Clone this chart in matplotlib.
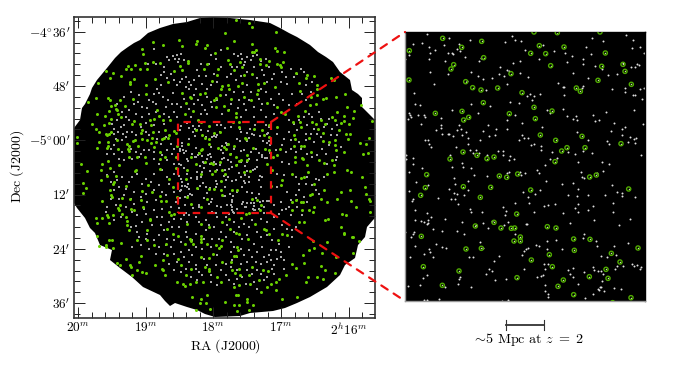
import numpy as np
import matplotlib
matplotlib.use("Agg")
import matplotlib.pyplot as plt
from matplotlib.patches import Polygon, Rectangle, ConnectionPatch
from matplotlib.ticker import FixedLocator

plt.rcParams['mathtext.fontset'] = 'cm'
plt.rcParams['font.family'] = ['cmr10', 'DejaVu Sans']
plt.rcParams['axes.formatter.use_mathtext'] = True

# ---- survey footprint outline, read as picture positions (px)
outline = [(74,128),(77,124),(80,120),(81,114),(82,108),(85,104),(87,100),(90,94),(92,88),(97,80),(102,74),(107,68),(115,58),(121,52),(128,47),(134,43),(140,40),(148,33),
 (160,28),(173,24),(187,22),(200,18),(213,17),(230,18),(250,20),(270,23),(280,28),(289,33),(297,37),(310,45),(318,52),(326,57),
 (333,62),(340,72),(350,80),(352,90),(358,94),(362,98),(362,107),(368,113),(373,118),(375,120),(375,218),(373,220),(367,227),
 (365,237),(358,245),(355,258),(345,265),(340,275),(327,287),(310,297),(297,303),(285,308),(273,311),(250,313),(240,316),
 (215,317),(205,314),(197,310),(187,307),(175,303),(170,306),(165,301),(160,295),(143,287),(132,277),(120,268),(110,260),(112,250),
 (100,245),(95,233),(90,228),(85,218),(77,208),(74,203)]

# ---- left panel green sources, by quadrant tile (1/3 px units inside each tile)
green_nw = [(236,75),(314,69),(369,72),(365,80),(266,85),(325,88),(399,84),(392,92),(204,96),(208,112),(423,107),(212,138),(237,134),(258,138),(341,132),(342,137),(318,148),(323,160),(398,141),(390,155),(161,147),(157,155),(184,144),(172,157),(198,157),(218,157),(95,161),(118,167),(140,177),(109,183),(72,198),(168,195),(168,202),(180,187),(243,187),(283,195),(299,162),(415,193),(433,155),(430,175),(217,204),(443,207),(440,217),(324,227),(378,231),(393,227),(216,231),(437,233),(426,242),(421,250),(66,244),(103,243),(107,250),(137,249),(178,247),(349,240),(352,242),(41,254),(112,268),(123,265),(153,266),(125,275),(129,280),(425,270),(449,268),(358,282),(336,258),(332,291),(250,280),(254,298),(240,307),(68,292),(92,296),(105,283),(110,305),(140,301),(131,290),(179,313),(228,310),(230,323),(289,310),(266,308),(105,318),(55,320),(90,323),(66,337),(75,345),(97,350),(100,355),(106,352),(111,345),(175,322),(197,320),(204,338),(200,347),(273,340),(269,364),(236,345),(301,343),(286,353),(283,362),(305,348),(406,327),(372,310),(380,315),(367,340),(385,353),(393,362),(405,365),(421,347),(437,345),(8,360),(9,378),(76,375),(128,368),(159,380),(165,386),(163,395),(131,396),(101,376),(102,387),(99,392),(69,392),(183,370),(178,372),(205,365),(220,368),(234,362),(264,365),(192,388),(232,378),(240,390),(245,375),(310,388),(342,380),(385,395),(380,398),(376,408),(405,380),(433,392),(450,390),(257,404),(258,426),(272,420),(307,420),(165,402),(165,420),(190,420),(22,440),(83,440),(101,433),(135,444),(214,420),(216,438),(365,440),(392,436),(410,437),(416,440),(439,436),(350,420)]
green_ne = [(37,10),(76,17),(85,30),(4,49),(156,44),(30,71),(83,80),(9,93),(153,93),(160,103),(180,104),(84,105),(95,100),(91,104),(13,130),(107,127),(136,132),(109,140),(127,143),(159,142),(167,145),(177,136),(170,150),(18,140),(48,135),(30,160),(53,150),(60,175),(84,172),(216,168),(248,175),(247,183),(271,177),(322,183),(329,188),(12,203),(42,207),(54,197),(103,201),(103,218),(120,197),(154,210),(226,198),(280,205),(228,222),(278,215),(15,215),(22,245),(60,240),(100,230),(130,257),(160,270),(82,250),(262,240),(280,235),(305,242),(335,241),(363,231),(258,263),(275,260),(296,247),(410,264),(368,270),(338,284),(390,282),(360,298),(386,302),(12,280),(35,288),(35,300),(26,315),(46,314),(44,330),(89,337),(115,340),(136,325),(160,330),(171,284),(184,290),(243,283),(222,297),(207,315),(229,316),(264,315),(275,320),(292,310),(302,322),(323,300),(332,310),(350,318),(360,313),(375,320),(444,312),(230,330),(283,335),(298,348),(345,340),(120,355),(135,360),(210,355),(214,367),(256,363),(297,372),(314,375),(332,370),(332,383),(366,352),(377,350),(372,365),(436,362),(407,377),(427,381),(360,405),(418,410),(432,408),(336,400),(12,380),(30,388),(62,362),(67,365),(7,395),(18,412),(36,420),(51,430),(45,433),(68,415),(70,430),(88,392),(122,395),(134,400),(148,420),(160,413),(168,395),(211,388),(232,388),(241,388),(214,420),(233,422),(238,425),(212,435),(250,445),(286,430),(299,437),(324,430),(330,445),(262,405),(35,445),(130,440)]
green_sw = [(38,11),(82,8),(109,2),(183,13),(258,5),(305,2),(27,47),(35,64),(28,78),(82,40),(99,28),(127,28),(118,52),(120,45),(108,68),(112,85),(115,90),(143,92),(84,103),(156,57),(222,54),(205,72),(234,74),(258,88),(261,102),(187,10),(168,95),(137,115),(132,122),(135,130),(100,145),(116,145),(103,150),(65,153),(68,167),(83,153),(105,167),(145,140),(155,150),(160,163),(172,125),(180,130),(228,155),(229,160),(207,120),(200,100),(285,135),(290,145),(300,140),(276,102),(310,90),(285,37),(297,60),(335,35),(340,10),(380,20),(370,62),(405,65),(413,22),(423,12),(445,10),(441,42),(440,70),(443,85),(420,65),(340,90),(352,110),(380,120),(400,95),(160,175),(165,190),(218,190),(278,185),(298,202),(340,170),(380,172),(405,180),(445,165),(70,207),(105,218),(113,220),(188,220),(220,220),(140,228),(76,237),(95,233),(97,240),(117,243),(240,235),(277,230),(312,208),(332,232),(348,215),(350,222),(358,232),(380,207),(380,217),(380,225),(444,220),(440,238),(436,243),(405,272),(418,262),(427,235),(400,232),(155,275),(200,268),(195,285),(128,288),(137,293),(168,295),(170,300),(190,310),(204,315),(215,317),(175,325),(243,293),(265,305),(268,310),(272,323),(267,280),(280,265),(313,275),(320,295),(337,325),(310,345),(328,350),(332,356),(347,352),(353,390),(400,383),(380,395),(377,408),(395,407),(367,430),(407,427),(365,345),(388,345),(405,305),(405,312),(392,300),(430,330),(445,285),(380,270),(352,305),(440,345)]
green_se = [(2,20),(78,12),(60,15),(205,20),(175,40),(172,55),(230,32),(240,30),(142,57),(143,10),(253,15),(270,50),(300,70),(310,20),(330,15),(370,10),(380,15),(415,30),(423,60),(425,80),(435,95),(437,102),(350,75),(377,70),(290,95),(310,105),(340,97),(380,102),(395,120),(437,135),(25,68),(38,70),(85,97),(100,100),(110,115),(108,130),(74,137),(65,140),(50,152),(15,155),(18,185),(35,198),(45,200),(92,170),(120,185),(125,190),(135,200),(163,218),(175,202),(190,205),(205,105),(215,100),(232,105),(236,105),(205,130),(233,130),(255,130),(268,135),(270,120),(258,85),(263,82),(225,165),(240,165),(303,158),(313,155),(355,142),(367,145),(352,180),(360,197),(360,202),(383,210),(388,210),(405,222),(308,225),(388,258),(268,222),(255,250),(270,242),(295,258),(335,270),(72,215),(40,240),(43,248),(35,268),(20,285),(30,268),(45,305),(25,310),(33,318),(48,325),(75,325),(78,350),(85,300),(105,340),(118,308),(132,312),(142,350),(155,345),(165,335),(185,325),(205,290),(240,287),(238,265),(215,302),(253,330),(280,330),(298,335),(290,298),(332,318),(247,345),(303,310),(155,370),(175,395),(220,390),(128,360),(45,355),(30,360),(35,385),(42,385),(68,395),(68,405),(75,430),(88,415),(45,415),(30,415),(40,433),(3,405),(110,375)]

# ---- left panel pale sources outside the inset box
pale_nw = [(310,115),(320,112),(303,125),(280,120),(285,130),(240,97),(222,140),(247,140),(270,150),(270,165),(290,170),(325,185),(335,180),(345,195),(360,190),(300,190),(310,205),(260,205),(250,215),(240,230),(267,240),(238,255),(245,262),(225,250),(205,270),(195,235),(170,225),(150,240),(130,260),(165,280),(185,290),(145,285),(130,310),(113,320),(120,335),(150,325),(160,345),(157,360),(125,365),(120,385),(100,410),(120,410),(145,405),(150,430),(175,425),(195,420),(210,400),(225,400),(240,425),(280,400),(295,410),(280,430),(300,440),(290,380),(260,380),(215,345),(240,325),(255,345),(270,320),(285,300),(300,285),(310,260),(330,245),(360,260),(385,265),(400,240),(365,215),(345,215),(400,215),(420,170),(405,140),(410,115),(425,125),(440,100),(380,140),(370,160),(440,150),(445,290),(400,290),(380,290),(350,300),(310,300),(270,290),(225,290),(205,300),(175,345),(145,370),(170,395),(185,355),(250,365),(225,355),(430,250),(415,270),(330,130),(315,125),
 (296,118),(312,135),(262,175),(280,182),(318,195),(352,205),(375,178),(395,178),(430,195),(410,205),(385,200),(298,228),(282,250),(255,228),(218,272),(192,255),(180,262),(155,300),(140,330),(133,345),(148,350),(165,310),(200,330),(215,318),(245,285),(275,270),(295,262),(322,270),(345,275),(372,248),(410,255),(392,278),(360,235),(335,210),(200,410),(135,425),(110,395),(120,352),(185,405),(240,405),(265,415),(255,440),(300,395),(275,360)]
pale_ne = [(30,110),(50,110),(55,125),(70,120),(80,130),(100,115),(125,125),(135,150),(115,160),(90,150),(60,145),(40,150),(20,170),(10,180),(35,190),(70,205),(80,225),(110,215),(130,195),(150,170),(175,165),(200,155),(230,155),(240,165),(210,180),(190,200),(165,230),(140,245),(115,260),(90,270),(75,250),(65,280),(50,300),(20,260),(5,235),(90,300),(110,280),(150,290),(125,300),(205,230),(235,230),(260,225),(245,205),(265,195),(195,310),(210,320),(240,300),(265,300),(290,305),(310,320),(325,335),(300,330),(270,335),(245,350),(220,340),(195,345),(180,365),(200,395),(175,385),(245,370),(270,375),(290,360),(340,355),(315,385),(295,395),(265,420),(250,410),(195,440),(175,435),(185,405),(335,430),(310,440),(350,390),(340,420),(160,350),(155,400),(230,395),(280,350),
 (42,118),(62,135),(88,118),(112,133),(25,150),(70,165),(50,178),(100,182),(120,175),(145,185),(170,195),(185,180),(220,170),(58,225),(30,225),(45,250),(15,280),(42,272),(60,260),(105,245),(125,225),(178,250),(150,265),(195,265),(220,260),(245,250),(285,285),(255,290),(225,310),(250,325),(280,350),(315,305),(340,325),(320,355),(200,370),(225,375),(260,350),(305,410),(280,415),(215,405)]
pale_sw = [(100,25),(120,15),(145,30),(165,45),(190,20),(215,35),(240,20),(265,10),(280,30),(300,20),(135,60),(155,65),(180,75),(120,70),(100,120),(125,115),(95,135),(120,160),(140,150),(155,120),(180,110),(200,90),(220,105),(245,100),(275,85),(300,75),(305,105),(290,120),(265,125),(240,130),(215,140),(190,145),(170,180),(185,178),(205,165),(235,175),(260,175),(270,190),(285,165),(320,155),(340,165),(365,150),(395,160),(430,150),(420,180),(395,190),(365,200),(335,195),(315,180),(295,180),(300,220),(320,225),(280,215),(255,205),(240,220),(215,215),(195,210),(175,240),(200,235),(225,245),(255,240),(290,240),(270,260),(300,260),(320,255),(345,250),(365,240),(385,245),(410,240),(430,265),(390,275),(365,295),(345,285),(310,285),(285,290),(320,315),(365,305),(385,325),(410,325),(430,355),(440,310),(350,330),(370,340),(345,145),(415,135),(440,120),
 (110,45),(130,40),(175,30),(205,50),(230,45),(255,55),(285,50),(150,85),(170,95),(215,80),(240,70),(265,75),(110,95),(135,95),(175,135),(210,125),(250,150),(265,150),(300,155),(330,145),(375,165),(405,175),(440,195),(355,220),(340,210),(390,215),(415,215),(435,215),(275,235),(245,260),(220,200),(190,195),(330,270),(355,265),(400,295),(425,295),(375,315),(335,305),(300,310),(410,345)]
pale_se = [(160,20),(180,25),(215,30),(250,30),(275,35),(160,60),(190,75),(170,105),(185,125),(165,140),(200,145),(130,165),(150,150),(110,155),(85,160),(60,170),(30,165),(10,175),(5,210),(20,225),(55,215),(70,205),(90,230),(110,210),(115,240),(145,220),(165,230),(195,240),(205,210),(135,265),(160,275),(180,280),(150,295),(130,285),(110,290),(85,270),(60,265),(20,255),(5,290),(50,290),(70,310),(100,310),(130,330),(110,320),(145,305),(180,305),(15,340),(40,335),(65,350),(100,365),(90,345),(5,325),(220,100),(220,120),(250,105),(285,40),(300,30),(275,70),(245,50),(225,70),(200,100),(235,145),(150,115),(175,175),(130,205),(90,130),(40,125),(25,120),(10,115),(65,120),(120,120),(5,150),(30,195),(150,185),(190,185),(215,180),(205,190),(140,250),(170,255),
 (15,140),(45,180),(75,180),(100,195),(30,240),(50,245),(75,250),(100,255),(155,250),(25,280),(40,270),(70,285),(95,285),(120,270),(170,270),(140,280),(20,300),(40,310),(85,320),(120,340),(150,320),(30,350),(55,330),(175,130),(195,120),(215,85),(240,90),(265,55),(285,80),(225,50)]

# ---- inset panel sources (inset grid units)
inset_green = [(128,55),(185,82),(245,64),(28,92),(402,36),(472,38),(600,36),(418,77),(492,81),(392,100),(437,101),(616,99),(251,113),(161,134),(153,147),(452,137),(605,139),(669,133),(675,154),(333,161),(27,180),(197,185),(594,181),(694,193),(218,203),(243,210),(293,204),(529,204),(541,214),(366,218),(250,248),(402,262),(186,274),(106,280),(328,281),(456,273),(206,292),(191,300),(406,296),(421,345),(546,349),(467,361),(663,371),(501,383),(555,383),(485,393),(189,396),(231,406),(282,411),(261,416),(150,417),(465,425),(80,464),(298,468),(353,462),(320,472),(569,471),(589,465),
 (76,503),(190,500),(272,502),(392,510),(686,507),(62,526),(241,532),(350,582),(282,607),(226,618),(303,624),(334,625),(344,624),(442,620),(468,624),(64,649),(361,651),(342,663),(361,663),(521,657),(570,658),(198,687),(244,685),(523,691),(714,684),(448,704),(634,700),(394,720),(660,726),(70,740),(457,740),(618,748),(177,753),(351,773),(568,770),(624,775),(490,780),(127,796),(474,799),(521,824),(693,833),(638,848)]
inset_pale_top = [(82,43),(146,53),(40,72),(65,70),(131,74),(86,81),(104,89),(89,99),(143,99),(155,100),(159,103),(172,87),(177,71),(181,92),(195,111),(88,118),(135,123),(15,117),(27,105),(210,60),(316,67),(336,49),(345,60),(362,63),(376,90),(417,118),(429,76),(461,92),(494,99),(516,108),(501,126),(548,116),(549,132),(557,81),(574,102),(576,54),(609,64),(678,44),(699,60),(696,83),(720,82),(733,98),(585,139),(623,166),(650,162),(668,128),(711,133),(718,136),(705,140),(694,141),(606,147),(238,124),(244,113),(300,141),(338,128),(359,124),(320,150),(326,152),(297,161),(361,159),(313,167),(384,170),(277,173),(250,177),(235,168),(213,157),(144,161),(90,155),(102,191),(202,183),(43,220),(321,192),(474,188),(490,200),(492,202),(518,160),(565,174),(548,198),(547,205),(635,206),(675,204),(675,215),(719,206),(731,203),(706,224),(700,226),(726,238),(492,226),(389,223),(380,228),(401,227),(419,222),(395,240),(330,245),(357,249),(258,211),(270,258),(212,252),(45,251),(60,254),(155,271),(235,279),(27,278),(30,285),(33,292),(24,298),(55,286),(73,285),(76,292),(123,294),(63,311),(109,329),(124,316),(123,323),(178,314),(182,327),(172,329),(125,341),(143,342),(148,341),(158,348),(187,346),(199,337),(204,353),(265,316),(288,326),(250,333),(322,301),(346,286),(322,328),(268,348),(285,345),(366,310),(366,344),(372,354),(385,353),(357,360),(440,270),(450,279),(489,268),(502,289),(519,296),(527,288),(530,300),(425,321),(579,284),(584,302),(596,300),(617,276),(703,270),(641,310),(633,333),(667,327),(674,321),(666,344),(532,337),(565,361),(622,364),(627,371),(683,365),(691,352),(702,357),(707,353),(705,369),(729,312),(75,360),(85,361),(86,372),(94,380),(168,380),(240,360),(203,372),(210,391),(228,391),(219,400),(238,398),(294,393),(309,393),(308,405),(331,409),(341,418),(327,421),(262,405),(149,406),(186,428),(190,440),(213,445),(155,442),(19,406),(17,416),(39,413),(39,433),(65,445),(26,457),(161,475),(222,464),(261,467),(326,456),(320,458),(360,456),(375,458),(363,464),(412,449),(418,458),(435,435),(449,417),(470,413),(392,376),(402,373),(424,379),(424,390),(455,395),(504,395),(524,402),(549,393),(576,400),(534,426),(606,426),(627,432),(722,404),(608,454),(543,457),(546,470),(553,475),(592,460)]
inset_pale_low = [(49,7),(85,15),(166,11),(204,3),(437,3),(485,12),(518,9),(535,27),(636,16),(26,32),(147,28),(162,40),(170,43),(191,44),(154,58),(165,58),(173,73),(114,54),(36,62),(40,58),(204,30),(368,36),(385,50),(405,42),(420,30),(386,70),(345,68),(505,45),(532,48),(563,44),(614,44),(652,36),(665,38),(666,48),(706,52),(432,77),(443,75),(466,72),(535,72),(526,83),(489,99),(533,96),(578,78),(565,89),(583,120),(640,70),(639,95),(44,90),(80,100),(93,110),(85,120),(46,120),(62,122),(72,127),(80,132),(83,130),(135,117),(185,127),(209,88),(212,95),(247,95),(310,82),(318,92),(316,104),(403,95),(658,136),(690,118),(100,148),(127,152),(172,153),(192,162),(229,135),(249,128),(265,144),(276,124),(312,135),(324,126),(378,133),(382,133),(510,128),(346,162),(42,155),(38,162),(32,172),(16,157),(239,185),(250,205),(108,193),(88,208),(90,216),(45,198),(127,200),(138,204),(72,221),(98,232),(30,232),(208,232),(218,232),(297,229),(281,243),(407,195),(416,198),(384,205),(377,208),(365,226),(373,212),(440,183),(468,181),(486,208),(549,175),(553,163),(587,184),(590,197),(441,208),(604,228),(620,232),(647,225),(642,198),(685,190),(670,258),(697,253),(702,258),(712,256),(722,260),(721,268),(646,266),(650,258),(432,252),(444,252),(434,267),(428,284),(424,288),(412,292),(518,264),(504,270),(511,282),(520,292),(553,277),(580,262),(582,270),(594,272),(604,272),(610,283),(606,303),(600,320),(593,328),(603,322),(642,325),(662,326),(535,313),(436,316),(435,332),(443,342),(444,350),(578,342),(612,334),(598,330),(267,267),(276,273),(257,282),(286,301),(319,298),(372,267),(181,290),(177,296),(174,311),(212,320),(70,293),(80,285),(24,318),(60,316),(135,322),(73,360),(80,360),(116,357),(306,362),(323,359),(450,365),(554,353),(680,367)]

ra_ticks = [20, 19, 18, 17, 16]
ra_labels = [r'$20^{m}$', r'$19^{m}$', r'$18^{m}$', r'$17^{m}$', r'$2^{h}16^{m}$']
dec_ticks = [-276, -288, -300, -312, -324, -336]
dec_labels = [r"$-4^{\circ}36'$", r"$48'$", r"$-5^{\circ}00'$", r"$12'$", r"$24'$", r"$36'$"]

# sky scale of the left panel
PX_PER_MIN = 67.7
PX_PER_ARCMIN = 4.525
def px_ra(px):
    return 20 - (np.asarray(px, float) - 78) / PX_PER_MIN
def px_dec(py):
    return -(276 + (np.asarray(py, float) - 31.7) / PX_PER_ARCMIN)
def tile(points, x0, y0):
    a = np.array(points, float)
    return px_ra(x0 + a[:, 0] / 3), px_dec(y0 + a[:, 1] / 3)

fig = plt.figure(figsize=(6.95, 3.75), dpi=100)
ax = fig.add_axes([74/695, 1-318/375, 301/695, 301/375])
ins = fig.add_axes([405/695, 1-301/375, 240/695, 269/375])

# ---------- left panel
ax.set_facecolor('white')
ol = np.array(outline, float)
ax.add_patch(Polygon(np.c_[px_ra(ol[:, 0]), px_dec(ol[:, 1])], closed=True, fc='black', ec='black', lw=0, zorder=1))

BOX_L, BOX_R, BOX_T, BOX_B = 178, 271, 122, 213
lo = np.array(inset_pale_top + [(x, y + 480) for x, y in inset_pale_low], float)
box_x = BOX_L + (lo[:, 0] - 15) / 720 * (BOX_R - BOX_L)
box_y = BOX_T + (lo[:, 1] - 36) / 807 * (BOX_B - BOX_T)
pale_sets = [tile(pale_nw, 74, 17), tile(pale_ne, 224, 17), tile(pale_sw, 74, 167), tile(pale_se, 224, 167),
             (px_ra(box_x[::2]), px_dec(box_y[::2]))]
for rx, dy in pale_sets:
    ax.scatter(rx, dy, s=0.8, c='#a8a8a8', linewidths=0, marker='s', zorder=2)
for rx, dy in [tile(green_nw, 74, 17), tile(green_ne, 224, 17), tile(green_sw, 74, 167), tile(green_se, 224, 167)]:
    ax.scatter(rx, dy, s=4.8, c='#6ad000', linewidths=0, zorder=3)

ax.set_xlim(px_ra(74), px_ra(375))
ax.set_ylim(px_dec(318), px_dec(17))
ax.set_xticks(ra_ticks)
ax.set_xticklabels(ra_labels, fontsize=9.6)
ax.set_yticks(dec_ticks)
ax.set_yticklabels(dec_labels, fontsize=9.6)
ax.xaxis.set_minor_locator(FixedLocator(np.arange(15.6, 20.05, 0.2)))
ax.yaxis.set_minor_locator(FixedLocator(np.arange(-338.4, -272, 2.4)))
ax.tick_params(axis='x', which='major', direction='in', length=8, width=0.7, top=True, right=True, pad=2.5, color='#222222')
ax.tick_params(axis='y', which='major', direction='in', length=8, width=0.7, top=True, right=True, pad=2.5, color='#222222')
ax.tick_params(which='minor', direction='in', length=4.2, width=0.7, top=True, right=True, color='#222222')
ax.set_xlabel(r'$\mathrm{RA\ (J2000)}$', fontsize=10, va='center')
ax.xaxis.set_label_coords(0.503, -0.093)
ax.set_ylabel(r'$\mathrm{Dec\ (J2000)}$', fontsize=10, va='center')
ax.yaxis.set_label_coords(-0.189, 0.505)
for s in ax.spines.values():
    s.set_linewidth(1.2)
    s.set_color('#333333')
    s.set_zorder(7)

RED_DASH = (0, (3.4, 3.2))
ax.add_patch(Rectangle((px_ra(BOX_L), px_dec(BOX_B)), px_ra(BOX_R) - px_ra(BOX_L), px_dec(BOX_T) - px_dec(BOX_B),
                       fc='none', ec='#ee1111', lw=1.6, ls=RED_DASH, zorder=5))

# ---------- inset panel
ins.set_facecolor('black')
ig = np.array(inset_green, float)
ins.scatter(lo[:, 0], lo[:, 1], s=2.0, c='#e0e0e0', linewidths=0, zorder=2)
ins.scatter(ig[:, 0], ig[:, 1], s=1.2, c='#c8e8a0', linewidths=0, zorder=2)
ins.scatter(ig[:, 0], ig[:, 1], s=9, facecolors='none', edgecolors='#4faa00', linewidths=1.0, zorder=3)
ins.set_xlim(15, 735)
ins.set_ylim(843, 36)
ins.set_xticks([])
ins.set_yticks([])
for k, s in ins.spines.items():
    s.set_linewidth(1.0)
    s.set_color('#999999' if k in ('left', 'bottom') else 'black')

# connectors
for yb, yi in [(BOX_T, 0.0), (BOX_B, 1.0)]:
    con = ConnectionPatch(xyA=(px_ra(BOX_R), px_dec(yb)), coordsA=ax.transData,
                          xyB=(0, 1 - yi), coordsB=ins.transAxes,
                          color='#ee1111', lw=1.6, ls=RED_DASH, zorder=10)
    fig.add_artist(con)

# scale bar below the inset
ins.plot([318, 432], [915, 915], color='#333333', lw=1.3, clip_on=False)
for xb in (318, 432):
    ins.plot([xb, xb], [900, 930], color='#333333', lw=0.8, clip_on=False)
ins.text(385, 960, r'$\sim\!5\ \mathrm{Mpc\ at}\ z\ =\ 2$', ha='center', va='center', fontsize=10.2, clip_on=False)

fig.savefig('out.png', dpi=100)
